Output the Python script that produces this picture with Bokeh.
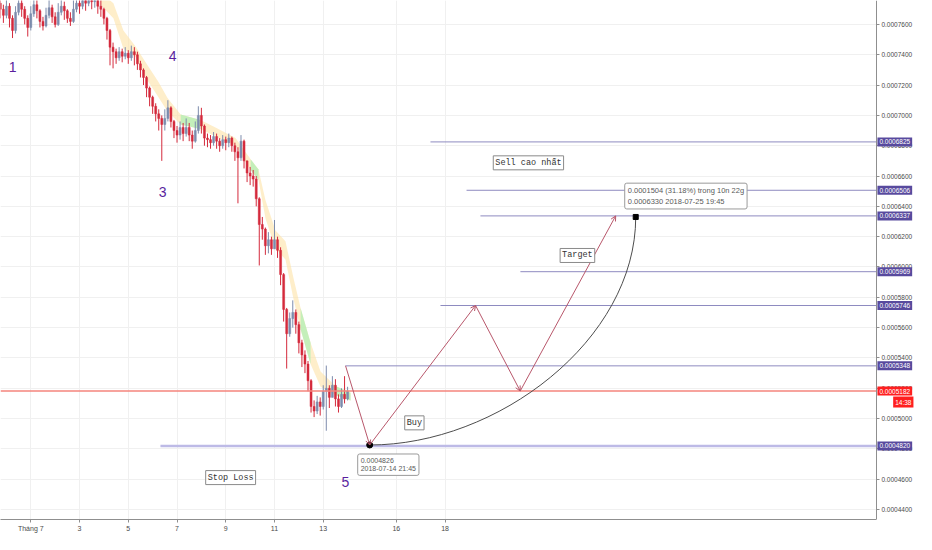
import numpy as np
from bokeh.plotting import figure
from bokeh.models import (ColumnDataSource, FixedTicker, PrintfTickFormatter, Label,
                          Arrow, OpenHead, Range1d)
from bokeh.core.properties import value
from bokeh.embed import file_html
from bokeh.resources import INLINE

# ---------------- data ----------------
# 3-hour candles, x in "day of July 2018" (1.0 = 2018-07-01 00:00); first bar 2018-06-29 18:00
BAR_START = -0.25
BAR_STEP = 0.125
PRICE_UNIT = 1e-7
OPEN0 = 7740
CLOSE = [7700, 7660, 7720, 7640, 7560, 7680, 7740, 7700, 7640, 7580,
         7670, 7730, 7690, 7620, 7590, 7660, 7710, 7650, 7600, 7680,
         7720, 7690, 7640, 7620, 7700, 7740, 7720, 7760, 7740, 7780,
         7750, 7760, 7720, 7700, 7640, 7560, 7450, 7420, 7380, 7420,
         7390, 7410, 7380, 7420, 7400, 7340, 7300, 7250, 7180, 7120,
         7060, 7010, 6980, 6940, 6980, 7050, 6960, 6900, 6870, 6920,
         6880, 6920, 6870, 6830, 6900, 7000, 6930, 6850, 6840, 6820,
         6860, 6830, 6800, 6840, 6820, 6850, 6800, 6760, 6720, 6830,
         6700, 6620, 6600, 6580, 6450, 6280, 6250, 6140, 6180, 6120,
         6180, 6110, 5950, 5720, 5560, 5660, 5700, 5620, 5500, 5420,
         5360, 5250, 5080, 5050, 5110, 5080, 5180, 5200, 5140, 5220,
         5130, 5080, 5160, 5130, 5182]
HIGH = [7790, 7730, 7770, 7740, 7660, 7720, 7800, 7790, 7720, 7660,
        7720, 7790, 7760, 7700, 7650, 7710, 7780, 7730, 7680, 7740,
        7800, 7750, 7700, 7680, 7760, 7820, 7800, 7830, 7810, 7850,
        7820, 7830, 7790, 7760, 7710, 7650, 7570, 7480, 7440, 7450,
        7440, 7450, 7430, 7460, 7450, 7420, 7360, 7310, 7260, 7190,
        7130, 7080, 7040, 7000, 7040, 7100, 7060, 6970, 6930, 6960,
        6950, 6980, 6950, 6900, 6960, 7060, 7050, 6940, 6880, 6870,
        6890, 6880, 6850, 6870, 6860, 6880, 6860, 6820, 6790, 6870,
        6840, 6700, 6660, 6640, 6600, 6460, 6330, 6260, 6230, 6200,
        6310, 6200, 6130, 5960, 5730, 5700, 5780, 5720, 5640, 5520,
        5450, 5380, 5260, 5120, 5150, 5140, 5220, 5350, 5220, 5280,
        5260, 5160, 5200, 5280, 5210]
LOW = [7640, 7610, 7640, 7580, 7510, 7540, 7660, 7650, 7600, 7520,
       7560, 7650, 7640, 7580, 7560, 7580, 7640, 7610, 7580, 7590,
       7660, 7630, 7610, 7590, 7610, 7680, 7670, 7700, 7690, 7720,
       7700, 7710, 7670, 7650, 7600, 7500, 7330, 7310, 7340, 7360,
       7350, 7370, 7340, 7360, 7330, 7300, 7250, 7200, 7120, 7060,
       7010, 6960, 6900, 6700, 6900, 6960, 6920, 6850, 6820, 6840,
       6830, 6860, 6830, 6780, 6820, 6880, 6880, 6800, 6790, 6780,
       6800, 6780, 6760, 6780, 6770, 6790, 6760, 6700, 6420, 6700,
       6650, 6560, 6540, 6530, 6400, 6010, 6180, 6080, 6090, 6080,
       6120, 6060, 5880, 5640, 5330, 5540, 5600, 5560, 5430, 5340,
       5300, 5180, 5040, 5010, 5030, 5020, 5060, 4920, 5070, 5140,
       5080, 5040, 5070, 5100, 5120]

# shaded indicator band (day of July, upper, lower in 1e-7)
CLOUD_T = [3.86, 4.39, 4.80, 5.30, 5.71, 6.24, 6.61, 7.15, 7.96, 8.58, 9.40,
           10.02, 10.34, 10.63, 11.04, 11.45, 11.79, 12.07, 12.48, 12.89, 13.50, 14.12]
CLOUD_TOP = [7810, 7740, 7560, 7455, 7350, 7220, 7115, 7005, 6970, 6920, 6850,
             6710, 6645, 6440, 6240, 6170, 5920, 5730, 5500, 5310, 5215, 5170]
CLOUD_BOT = [7730, 7640, 7440, 7385, 7250, 7120, 7025, 6940, 6910, 6860, 6800,
             6640, 6575, 6320, 6120, 6050, 5780, 5590, 5360, 5210, 5155, 5120]
GREEN_SPANS = [(7, 8), (11, 12), (17, 18), (20, 21)]

# horizontal levels and where each starts
LEVELS = [0.0006825, 0.0006506, 0.0006337, 0.0005969, 0.0005746, 0.0005348, 0.0004820]
LEVEL_FROM = [17.40, 18.88, 19.45, 21.09, 17.81, 13.91, 6.32]
LAST_PRICE = 0.0005182
LAST_TIME = "14:38"

# projected path
PATH_TIME = ["2018-07-13 22:00", "2018-07-14 21:45", "2018-07-19 06:00",
             "2018-07-21 02:00", "2018-07-25 00:00"]
PATH_PRICE = [0.0005348, 0.0004826, 0.0005746, 0.0005182, 0.0006337]

# measured move
MOVE_START = ("2018-07-14 21:45", 0.0004826)
MOVE_END = ("2018-07-25 19:45", 0.0006330)
MOVE_TEXT = "0.0001504 (31.18%) trong 10n 22g"

# notes
NOTE_TEXT = ["Sell cao nhất", "Target", "Buy", "Stop Loss"]
NOTE_X = [21.42, 23.43, 16.74, 9.20]
NOTE_Y = [0.0006687, 0.0006076, 0.0004972, 0.0004611]
WAVE_TEXT = ["1", "4", "3", "5"]
WAVE_X = [0.25, 6.82, 6.41, 13.91]
WAVE_Y = [0.0007318, 0.0007390, 0.0006497, 0.0004585]

X_TICKS = [1, 3, 5, 7, 9, 11, 13, 16, 18]
X_TICK_LABELS = ["Tháng 7", "3", "5", "7", "9", "11", "13", "16", "18"]
Y_TICKS = [0.00044, 0.00046, 0.00048, 0.00050, 0.00052, 0.00054, 0.00056, 0.00058,
           0.00060, 0.00062, 0.00064, 0.00066, 0.00068, 0.00070, 0.00072, 0.00074, 0.00076]

X_RANGE = (-0.2433, 37.344)
X_AXIS = 35.70          # where the price scale sits
Y_RANGE = (0.00043346, 0.00077577)


def jday(s):
    d, hm = s.split()
    h, m = hm.split(":")
    return int(d.split("-")[2]) + int(h) / 24 + int(m) / 1440


# ---------------- figure ----------------
p = figure(width=916, height=534, x_range=Range1d(*X_RANGE), y_range=Range1d(*Y_RANGE),
           y_axis_location="right", output_backend="svg", toolbar_location=None,
           min_border_left=0, min_border_top=0, min_border_right=0, min_border_bottom=0,
           outline_line_color=None, background_fill_color="white")

for ax in (p.xaxis[0], p.yaxis[0]):
    ax.axis_line_color = "#8f8f8f"
    ax.major_tick_line_color = "#8f8f8f"
    ax.major_tick_out = 3
    ax.major_tick_in = 0
    ax.minor_tick_out = 0
    ax.minor_tick_in = 0
    ax.major_label_text_font = "Liberation Sans"
    ax.major_label_text_color = "#4a4a4a"
    ax.major_label_standoff = 2

p.xaxis.ticker = FixedTicker(ticks=X_TICKS)
p.xaxis.major_label_overrides = {t: l for t, l in zip(X_TICKS, X_TICK_LABELS)}
p.xaxis.major_label_text_font_size = "7px"
p.xaxis.bounds = (X_RANGE[0], X_AXIS)
p.yaxis.ticker = FixedTicker(ticks=Y_TICKS)
p.yaxis.formatter = PrintfTickFormatter(format="%.7f")
p.yaxis.major_label_text_font_size = "6.5px"
p.yaxis.fixed_location = X_AXIS
p.xgrid.grid_line_color = "#f0f0f0"
p.ygrid.grid_line_color = "#f0f0f0"

# blank strip behind the price scale
p.quad(left=[X_AXIS], right=[X_RANGE[1]], bottom=[Y_RANGE[0]], top=[Y_RANGE[1]],
       fill_color="white", line_color=None)

# band
ct = np.array(CLOUD_T)
ctop = np.array(CLOUD_TOP) * PRICE_UNIT
cbot = np.array(CLOUD_BOT) * PRICE_UNIT
p.varea(x=ct, y1=cbot, y2=ctop, fill_color="#fde3a7", fill_alpha=0.6)
for a, b in GREEN_SPANS:
    p.varea(x=ct[a:b + 1], y1=cbot[a:b + 1], y2=ctop[a:b + 1], fill_color="#b5efb5", fill_alpha=0.8)

# candles
close = np.array(CLOSE) * PRICE_UNIT
opn = np.concatenate([[OPEN0 * PRICE_UNIT], close[:-1]])
t = BAR_START + BAR_STEP * np.arange(len(CLOSE))
up = close >= opn
cs = ColumnDataSource(dict(t=t, o=opn, c=close, h=np.array(HIGH) * PRICE_UNIT,
                           l=np.array(LOW) * PRICE_UNIT,
                           top=np.maximum(opn, close), bot=np.minimum(opn, close),
                           col=np.where(up, "#7d8cad", "#d42a3c")))
p.segment(x0="t", y0="l", x1="t", y1="h", color="col", line_width=1, source=cs)
p.vbar(x="t", top="top", bottom="bot", width=BAR_STEP * 0.65, fill_color="col",
       line_color="col", line_width=0.5, source=cs)

# level lines
for lv, f in zip(LEVELS, LEVEL_FROM):
    thick = lv == min(LEVELS)
    p.segment(x0=[f], y0=[lv], x1=[X_AXIS], y1=[lv],
              line_color="#bdbae6" if thick else "#8e8bc0",
              line_width=2.5 if thick else 1)
p.segment(x0=[X_RANGE[0]], y0=[LAST_PRICE], x1=[X_AXIS], y1=[LAST_PRICE],
          line_color="#f4857c", line_width=1.5)

# projected zigzag path with arrowheads
pt = [jday(s) for s in PATH_TIME]
for i in range(len(pt) - 1):
    p.add_layout(Arrow(end=OpenHead(size=5, line_color="#b8576b", line_width=1),
                       x_start=pt[i], y_start=PATH_PRICE[i], x_end=pt[i + 1], y_end=PATH_PRICE[i + 1],
                       line_color="#b8576b", line_width=1))

# measured-move curve
sx, sy = jday(MOVE_START[0]), MOVE_START[1]
ex, ey = jday(MOVE_END[0]), MOVE_END[1]
p.bezier(x0=[sx], y0=[sy], x1=[ex], y1=[ey],
         cx0=[sx + 0.48 * (ex - sx)], cy0=[sy], cx1=[ex], cy1=[sy + 0.46 * (ey - sy)],
         line_color="#4d4d4d", line_width=1)
p.scatter([sx], [sy], size=6, color="black")
p.scatter([ex], [ey], size=5, marker="square", color="black")

tip = dict(text_font="Liberation Sans", text_color="#5a5a5a", background_fill_color="white",
           border_line_color="#9a9a9a", border_line_width=1, padding=3, border_radius=2)
p.add_layout(Label(x=sx, y=sy, x_offset=-12, y_offset=-9, text=f"{sy:.7f}\n{MOVE_START[0]}",
                   text_font_size="7px", text_baseline="top", text_align="left", **tip))
p.add_layout(Label(x=ex, y=ey, x_offset=-11, y_offset=8,
                   text=f"{MOVE_TEXT}\n{ey:.7f}      {MOVE_END[0]}",
                   text_font_size="7.5px", text_baseline="bottom", text_align="left", **tip))

# boxed notes
for tx, x, y in zip(NOTE_TEXT, NOTE_X, NOTE_Y):
    p.add_layout(Label(x=x, y=y, text=tx, text_font="Liberation Mono", text_font_size="8.5px",
                       text_color="#333333", text_align="center", text_baseline="middle",
                       background_fill_color="white", border_line_color="#8a8a8a",
                       border_line_width=1, padding=2))

# wave numbers
ws = ColumnDataSource(dict(x=WAVE_X, y=WAVE_Y, t=WAVE_TEXT))
p.text(x="x", y="y", text="t", source=ws, text_font=value("Liberation Sans"),
       text_font_size="14px", text_color="#5a1f9e", text_align="center", text_baseline="middle")

# price-scale marker boxes
for lv in LEVELS:
    p.add_layout(Label(x=X_AXIS, y=lv, x_offset=1, text=f"{lv:.7f}", text_font="Liberation Sans",
                       text_font_size="6.5px", text_color="white", text_baseline="middle",
                       text_align="left", background_fill_color="#584a9e", padding=2))
p.add_layout(Label(x=X_AXIS, y=LAST_PRICE, x_offset=1, text=f"{LAST_PRICE:.7f}",
                   text_font="Liberation Sans", text_font_size="6.5px", text_color="white",
                   text_baseline="middle", text_align="left", background_fill_color="#ff1f1f", padding=2))
p.add_layout(Label(x=X_AXIS, y=LAST_PRICE, x_offset=37, y_offset=-11, text=LAST_TIME,
                   text_font="Liberation Sans", text_font_size="6.5px", text_color="white",
                   text_baseline="middle", text_align="right", background_fill_color="#ff1f1f", padding=2))

open("out.html", "w").write(file_html(p, INLINE))
